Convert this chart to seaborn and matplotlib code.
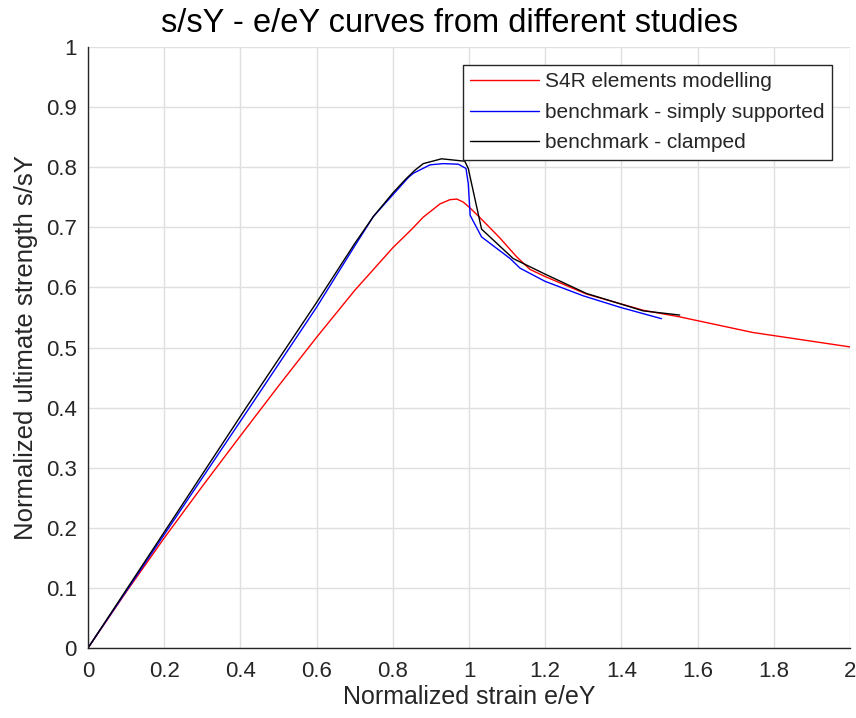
import matplotlib
matplotlib.use("Agg")
import matplotlib.pyplot as plt
import seaborn as sns

# S4R elements modelling
s4r_x = [0, 0.1, 0.2, 0.3, 0.4, 0.5, 0.6, 0.7, 0.8, 0.85, 0.88, 0.924, 0.95, 0.968,
         0.985, 1.003, 1.029, 1.08, 1.125, 1.16, 1.2, 1.308, 1.457, 1.553, 1.745, 2.0]
s4r_y = [0, 0.093, 0.183, 0.269, 0.353, 0.436, 0.517, 0.595, 0.666, 0.697, 0.717,
         0.739, 0.746, 0.747, 0.742, 0.732, 0.716, 0.683, 0.651, 0.630, 0.618, 0.589,
         0.562, 0.551, 0.525, 0.501]

# benchmark - simply supported
ss_x = [0, 0.424, 0.6, 0.7, 0.749, 0.841, 0.854, 0.898, 0.933, 0.972, 0.992, 0.998,
        1.003, 1.033, 1.108, 1.134, 1.2, 1.3, 1.396, 1.505]
ss_y = [0, 0.4, 0.567, 0.669, 0.718, 0.783, 0.790, 0.804, 0.806, 0.805, 0.798, 0.773,
        0.720, 0.684, 0.648, 0.632, 0.610, 0.586, 0.567, 0.548]

# benchmark - clamped
cl_x = [0, 0.415, 0.6, 0.7, 0.749, 0.8, 0.832, 0.858, 0.880, 0.928, 0.989, 0.998,
        1.033, 1.116, 1.2, 1.308, 1.457, 1.553]
cl_y = [0, 0.4, 0.575, 0.673, 0.718, 0.757, 0.779, 0.795, 0.806, 0.814, 0.810, 0.798,
        0.697, 0.648, 0.622, 0.590, 0.561, 0.554]

x_ticks = [0, 0.2, 0.4, 0.6, 0.8, 1, 1.2, 1.4, 1.6, 1.8, 2]
y_ticks = [0, 0.1, 0.2, 0.3, 0.4, 0.5, 0.6, 0.7, 0.8, 0.9, 1]

sns.set_style("white")
plt.rcParams['font.family'] = ['Liberation Sans', 'DejaVu Sans']

fig = plt.figure(figsize=(8.56, 7.18), dpi=100)
ax = fig.add_axes([0.1028, 0.0975, 0.8902, 0.837])

sns.lineplot(x=s4r_x, y=s4r_y, ax=ax, color='#ff0000', lw=1.0, sort=False,
             label='S4R elements modelling')
sns.lineplot(x=ss_x, y=ss_y, ax=ax, color='#0000ff', lw=1.0, sort=False,
             label='benchmark - simply supported')
sns.lineplot(x=cl_x, y=cl_y, ax=ax, color='#000000', lw=1.0, sort=False,
             label='benchmark - clamped')

ax.set_xlim(0, 2)
ax.set_ylim(0, 1)
ax.set_xticks(x_ticks)
ax.set_yticks(y_ticks)
ax.set_xticklabels([f'{t:g}' for t in x_ticks])
ax.set_yticklabels([f'{t:g}' for t in y_ticks])
ax.grid(True, color='#dfdfdf', lw=1.0)
ax.set_axisbelow(True)

for side in ['top', 'right']:
    ax.spines[side].set_visible(False)
for side in ['left', 'bottom']:
    ax.spines[side].set_color('#262626')
    ax.spines[side].set_linewidth(1.0)
ax.tick_params(direction='in', length=5, width=1.0, colors='#262626',
               labelsize=16, pad=8)
ax.tick_params(axis='x', pad=9.5)

ax.set_title('s/sY - e/eY curves from different studies', fontsize=23.5,
             color='black', x=0.475, pad=11)
ax.set_xlabel('Normalized strain e/eY', fontsize=18, color='#262626', labelpad=2)
ax.set_ylabel('Normalized ultimate strength s/sY', fontsize=18.5, color='#262626',
              labelpad=6)

leg = ax.legend(loc='upper right', bbox_to_anchor=(0.976, 0.970),
                borderaxespad=0, fontsize=15, handlelength=3.3,
                frameon=True, fancybox=False, framealpha=1,
                borderpad=0.35, labelspacing=0.55, handletextpad=0.3)
leg.get_frame().set_edgecolor('#262626')
leg.get_frame().set_linewidth(1.0)

fig.savefig('out.png', dpi=100)
